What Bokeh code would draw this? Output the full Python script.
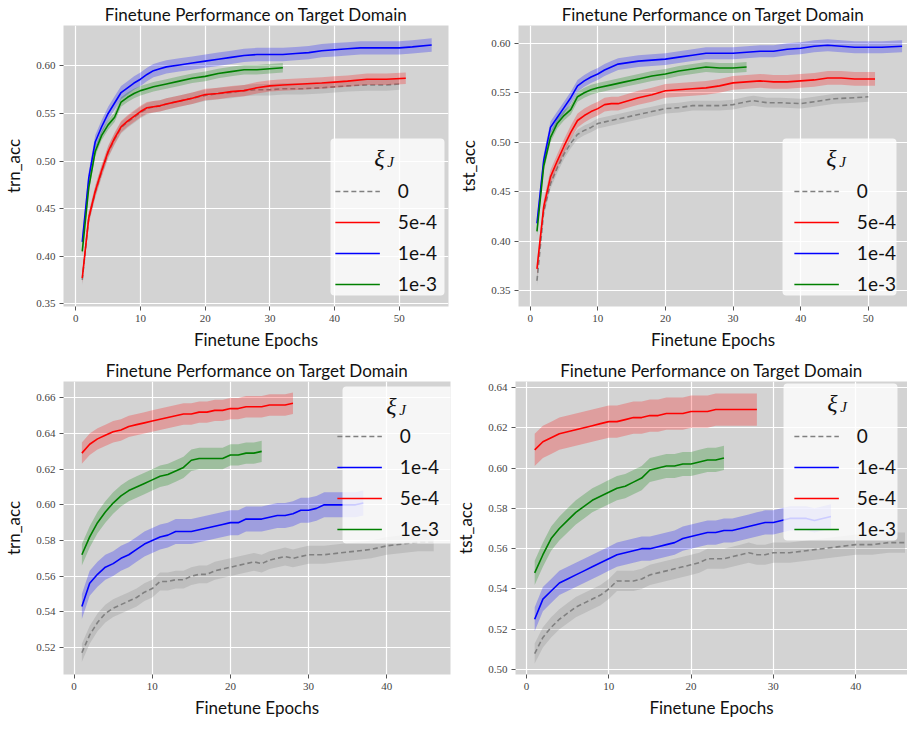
from bokeh.plotting import figure
from bokeh.models import Legend, LegendItem, Label, FixedTicker, Range1d, NumeralTickFormatter, BoxAnnotation
from bokeh.layouts import row, column
from bokeh.embed import file_html
from bokeh.resources import INLINE

TITLE = "Finetune Performance on Target Domain"
X_LABEL = "Finetune Epochs"

# ---------------- top-left: trn_acc ----------------
TL_EP_0 = [1,2,3,4,5,6,7,8,9,10,11,12,13,14,16,18,20,22,24,26,28,30,32,35,38,40,42,45,48,50]
TL_ACC_0 = [0.375,0.440,0.467,0.489,0.509,0.523,0.535,0.541,0.546,0.551,0.555,0.557,0.558,0.560,0.563,0.566,0.569,0.571,0.572,0.574,0.575,0.575,0.576,0.576,0.577,0.578,0.579,0.580,0.580,0.581]
TL_EP_5E4 = [1,2,3,4,5,6,7,8,9,10,11,12,13,14,16,18,20,22,24,26,28,30,32,35,38,40,42,45,48,51]
TL_ACC_5E4 = [0.377,0.440,0.468,0.490,0.510,0.524,0.536,0.542,0.547,0.552,0.556,0.557,0.558,0.560,0.563,0.566,0.570,0.571,0.573,0.574,0.577,0.579,0.580,0.581,0.582,0.583,0.584,0.586,0.586,0.587]
TL_EP_1E4 = [1,2,3,4,5,6,7,8,9,10,11,12,13,14,16,18,20,22,24,26,28,30,32,34,36,38,40,42,44,46,48,50,52,55]
TL_ACC_1E4 = [0.415,0.482,0.520,0.536,0.550,0.561,0.572,0.577,0.582,0.586,0.591,0.595,0.597,0.599,0.601,0.603,0.605,0.607,0.609,0.611,0.612,0.612,0.612,0.613,0.614,0.616,0.617,0.618,0.619,0.619,0.619,0.619,0.620,0.622]
TL_EP_1E3 = [1,2,3,4,5,6,7,8,9,10,11,12,14,16,18,20,22,24,26,28,30,32]
TL_ACC_1E3 = [0.405,0.472,0.510,0.527,0.538,0.546,0.562,0.567,0.571,0.574,0.576,0.578,0.581,0.584,0.587,0.589,0.592,0.594,0.596,0.596,0.597,0.598]
TL_STD = {"0": 0.006, "5e-4": 0.006, "1e-4": 0.007, "1e-3": 0.005}

# ---------------- top-right: tst_acc ----------------
TR_EP_0 = [1,2,3,4,5,6,7,8,9,10,12,14,16,18,20,22,24,26,28,30,32,33,35,37,40,42,45,48,50]
TR_ACC_0 = [0.360,0.430,0.458,0.474,0.488,0.499,0.508,0.512,0.515,0.519,0.522,0.525,0.528,0.531,0.534,0.535,0.537,0.537,0.537,0.538,0.541,0.542,0.540,0.540,0.539,0.541,0.544,0.545,0.546]
TR_EP_5E4 = [1,2,3,4,5,6,7,8,9,10,11,12,13,14,16,18,20,22,24,26,28,30,32,34,36,38,40,42,44,46,48,51]
TR_ACC_5E4 = [0.372,0.435,0.465,0.481,0.496,0.510,0.522,0.527,0.531,0.534,0.538,0.539,0.539,0.541,0.545,0.548,0.552,0.553,0.554,0.555,0.557,0.560,0.561,0.562,0.561,0.561,0.562,0.563,0.565,0.565,0.564,0.564]
TR_EP_1E4 = [1,2,3,4,5,6,7,8,9,10,11,12,13,14,16,18,20,22,24,26,28,30,32,34,36,38,40,42,44,46,48,50,52,55]
TR_ACC_1E4 = [0.418,0.482,0.515,0.525,0.535,0.545,0.557,0.562,0.566,0.569,0.573,0.576,0.579,0.580,0.582,0.583,0.584,0.586,0.588,0.590,0.590,0.590,0.591,0.592,0.592,0.594,0.595,0.597,0.598,0.597,0.596,0.596,0.596,0.597]
TR_EP_1E3 = [1,2,3,4,5,6,7,8,9,10,12,14,16,18,20,22,24,26,28,30,32]
TR_ACC_1E3 = [0.410,0.476,0.505,0.519,0.527,0.533,0.546,0.550,0.553,0.555,0.558,0.561,0.564,0.567,0.569,0.572,0.574,0.576,0.575,0.575,0.576]
TR_STD = {"0": 0.005, "5e-4": 0.007, "1e-4": 0.006, "1e-3": 0.005}

# ---------------- bottom-left: trn_acc ----------------
BL_EP_0 = [1,2,3,4,5,6,7,8,9,10,11,12,13,14,15,16,17,18,19,20,21,22,23,24,25,26,27,28,29,30,32,34,36,38,40,42,44,46]
BL_ACC_0 = [0.517,0.527,0.534,0.539,0.542,0.544,0.546,0.548,0.551,0.553,0.557,0.557,0.558,0.558,0.560,0.561,0.561,0.563,0.564,0.565,0.566,0.567,0.568,0.567,0.569,0.570,0.571,0.570,0.571,0.572,0.572,0.573,0.574,0.575,0.577,0.578,0.579,0.579]
BL_EP_1E4 = [1,2,3,4,5,6,7,8,9,10,11,12,13,14,15,16,17,18,19,20,21,22,23,24,25,26,27,28,29,30,31,32,33,34,35,36,37]
BL_ACC_1E4 = [0.543,0.556,0.561,0.565,0.567,0.570,0.572,0.575,0.578,0.580,0.582,0.583,0.585,0.585,0.585,0.586,0.587,0.588,0.589,0.590,0.590,0.592,0.592,0.592,0.593,0.594,0.594,0.595,0.597,0.597,0.598,0.600,0.600,0.600,0.600,0.600,0.601]
BL_EP_5E4 = [1,2,3,4,5,6,7,8,9,10,11,12,13,14,15,16,17,18,19,20,21,22,23,24,25,26,27,28]
BL_ACC_5E4 = [0.629,0.634,0.637,0.639,0.641,0.642,0.644,0.645,0.646,0.647,0.648,0.649,0.650,0.651,0.651,0.652,0.652,0.653,0.653,0.654,0.654,0.655,0.655,0.655,0.656,0.656,0.656,0.657]
BL_EP_1E3 = [1,2,3,4,5,6,7,8,9,10,11,12,13,14,15,16,17,18,19,20,21,22,23,24]
BL_ACC_1E3 = [0.572,0.582,0.590,0.596,0.601,0.605,0.608,0.610,0.612,0.614,0.616,0.617,0.619,0.621,0.625,0.626,0.626,0.626,0.626,0.628,0.628,0.629,0.629,0.630]
BL_STD = {"0": 0.005, "1e-4": 0.007, "5e-4": 0.006, "1e-3": 0.006}

# ---------------- bottom-right: tst_acc ----------------
BR_EP_0 = [1,2,3,4,5,6,7,8,9,10,11,12,13,14,15,16,17,18,19,20,21,22,23,24,25,26,27,28,29,30,32,34,36,38,40,42,44,46]
BR_ACC_0 = [0.508,0.516,0.521,0.525,0.528,0.531,0.533,0.535,0.537,0.540,0.544,0.544,0.544,0.545,0.547,0.548,0.549,0.550,0.551,0.552,0.553,0.555,0.555,0.555,0.556,0.557,0.558,0.557,0.557,0.558,0.558,0.559,0.560,0.561,0.562,0.562,0.563,0.563]
BR_EP_1E4 = [1,2,3,4,5,6,7,8,9,10,11,12,13,14,15,16,17,18,19,20,21,22,23,24,25,26,27,28,29,30,31,32,33,34,35,36,37]
BR_ACC_1E4 = [0.525,0.535,0.539,0.543,0.545,0.547,0.549,0.551,0.553,0.555,0.557,0.558,0.559,0.560,0.560,0.561,0.562,0.563,0.565,0.566,0.567,0.568,0.568,0.569,0.569,0.570,0.571,0.572,0.573,0.573,0.574,0.575,0.575,0.575,0.574,0.575,0.576]
BR_EP_5E4 = [1,2,3,4,5,6,7,8,9,10,11,12,13,14,15,16,17,18,19,20,21,22,23,24,25,26,27,28]
BR_ACC_5E4 = [0.609,0.613,0.615,0.617,0.618,0.619,0.620,0.621,0.622,0.623,0.623,0.624,0.625,0.625,0.626,0.626,0.627,0.627,0.627,0.628,0.628,0.628,0.629,0.629,0.629,0.629,0.629,0.629]
BR_EP_1E3 = [1,2,3,4,5,6,7,8,9,10,11,12,13,14,15,16,17,18,19,20,21,22,23,24]
BR_ACC_1E3 = [0.548,0.557,0.565,0.570,0.574,0.578,0.581,0.584,0.586,0.588,0.590,0.591,0.593,0.595,0.599,0.600,0.601,0.601,0.602,0.602,0.603,0.604,0.604,0.605]
BR_STD = {"0": 0.005, "1e-4": 0.006, "5e-4": 0.008, "1e-3": 0.006}

TOP_XTICKS = [0, 10, 20, 30, 40, 50]
BOT_XTICKS = [0, 10, 20, 30, 40]
TOP_YTICKS = [0.35, 0.40, 0.45, 0.50, 0.55, 0.60]
BL_YTICKS = [0.52, 0.54, 0.56, 0.58, 0.60, 0.62, 0.64, 0.66]
BR_YTICKS = [0.50, 0.52, 0.54, 0.56, 0.58, 0.60, 0.62, 0.64]

COLORS = {"0": "#808080", "5e-4": "#ff0000", "1e-4": "#0000ff", "1e-3": "#008000"}
SANS = "Lato"
SERIF = "Liberation Serif"

# legend geometry (px)
LEG_PAD = 8
LEG_GLYPH_W = 45
LEG_ROW_H = 22
LEG_SPACING = 8
LEG_TITLE_FS = 24
LEG_MARGIN = 11
LEG_STANDOFF = 18
BOX_W = 114
BOX_H = 157


def make_panel(series, stds, ylabel, xr, yr, xticks, yticks, w, h, bl, br, bt, bb, loc):
    p = figure(width=w, height=h, x_range=Range1d(*xr), y_range=Range1d(*yr),
               output_backend="svg", toolbar_location=None, title=TITLE,
               min_border_left=bl, min_border_right=br, min_border_top=bt, min_border_bottom=bb)
    p.background_fill_color = "#d3d3d3"
    p.border_fill_color = "white"
    p.outline_line_color = None
    p.title.text_font = SANS
    p.title.text_font_size = "17px"
    p.title.text_font_style = "normal"
    p.title.text_color = "#111111"
    p.title.align = "center"
    p.title.standoff = 2
    p.grid.grid_line_color = "white"
    p.grid.grid_line_width = 1.2
    p.xaxis.ticker = FixedTicker(ticks=xticks)
    p.yaxis.ticker = FixedTicker(ticks=yticks)
    p.yaxis.formatter = NumeralTickFormatter(format="0.00")
    p.xaxis.axis_label = X_LABEL
    p.yaxis.axis_label = ylabel
    for ax in (p.xaxis, p.yaxis):
        ax.axis_line_color = None
        ax.major_tick_line_color = "#555555"
        ax.major_tick_in = 0
        ax.major_tick_out = 4
        ax.minor_tick_line_color = None
        ax.major_label_text_font = SERIF
        ax.major_label_text_font_size = "11px"
        ax.major_label_text_color = "#444444"
        ax.major_label_standoff = 4
        ax.axis_label_text_font = SANS
        ax.axis_label_text_font_size = "17px"
        ax.axis_label_text_font_style = "normal"
        ax.axis_label_text_color = "#111111"
    p.xaxis.axis_label_standoff = 4
    p.yaxis.axis_label_standoff = 9

    items = []
    for label, ep, acc, dash in series:
        s = stds[label]
        lo = [a - s for a in acc]
        hi = [a + s for a in acc]
        c = COLORS[label]
        p.varea(x=ep, y1=lo, y2=hi, fill_color=c, fill_alpha=0.25)
        r = p.line(ep, acc, line_color=c, line_width=1.6, line_dash=dash)
        items.append(LegendItem(label=label, renderers=[r]))

    # legend background box (frame-relative screen units), drawn under the title labels
    fw = w - bl - br
    fh = h - bt - bb
    right = fw - LEG_MARGIN
    left = right - BOX_W
    if loc == "bottom_right":
        bottom = LEG_MARGIN
        top = bottom + BOX_H
    else:
        top = fh - LEG_MARGIN
        bottom = top - BOX_H
    p.add_layout(BoxAnnotation(left=left, right=right, top=top, bottom=bottom,
                               left_units="screen", right_units="screen",
                               top_units="screen", bottom_units="screen",
                               fill_color="white", fill_alpha=0.8, line_color=None,
                               border_radius=4, level="annotation"))
    cx = (left + right) / 2
    ty = top - 19
    p.add_layout(Label(x=cx - 8, y=ty, x_units="screen", y_units="screen", text="ξ",
                       text_font=SERIF, text_font_style="italic", text_font_size="24px",
                       text_align="center", text_baseline="middle", text_color="#111111",
                       level="annotation"))
    p.add_layout(Label(x=cx + 3, y=ty - 4, x_units="screen", y_units="screen", text="J",
                       text_font=SERIF, text_font_style="italic", text_font_size="15px",
                       text_align="center", text_baseline="middle", text_color="#111111",
                       level="annotation"))

    leg = Legend(items=items, location=loc, margin=LEG_MARGIN, padding=LEG_PAD,
                 spacing=LEG_SPACING, glyph_width=LEG_GLYPH_W, glyph_height=LEG_ROW_H,
                 label_height=LEG_ROW_H, label_standoff=LEG_STANDOFF,
                 label_text_font=SANS, label_text_font_size="19px", label_text_color="#111111",
                 title="\u00a0", title_text_font_size="%dpx" % LEG_TITLE_FS, title_standoff=4,
                 background_fill_alpha=0.0, border_line_color=None)
    p.add_layout(leg)
    return p


top_series_l = [("0", TL_EP_0, TL_ACC_0, "5 3"), ("5e-4", TL_EP_5E4, TL_ACC_5E4, "solid"),
                ("1e-4", TL_EP_1E4, TL_ACC_1E4, "solid"), ("1e-3", TL_EP_1E3, TL_ACC_1E3, "solid")]
top_series_r = [("0", TR_EP_0, TR_ACC_0, "5 3"), ("5e-4", TR_EP_5E4, TR_ACC_5E4, "solid"),
                ("1e-4", TR_EP_1E4, TR_ACC_1E4, "solid"), ("1e-3", TR_EP_1E3, TR_ACC_1E3, "solid")]
bot_series_l = [("0", BL_EP_0, BL_ACC_0, "5 3"), ("1e-4", BL_EP_1E4, BL_ACC_1E4, "solid"),
                ("5e-4", BL_EP_5E4, BL_ACC_5E4, "solid"), ("1e-3", BL_EP_1E3, BL_ACC_1E3, "solid")]
bot_series_r = [("0", BR_EP_0, BR_ACC_0, "5 3"), ("1e-4", BR_EP_1E4, BR_ACC_1E4, "solid"),
                ("5e-4", BR_EP_5E4, BR_ACC_5E4, "solid"), ("1e-3", BR_EP_1E3, BR_ACC_1E3, "solid")]

p1 = make_panel(top_series_l, TL_STD, "trn_acc", (-1.9, 57.6), (0.347, 0.6425), TOP_XTICKS, TOP_YTICKS,
                452, 352, 56, 4, 22, 46, "bottom_right")
p2 = make_panel(top_series_r, TR_STD, "tst_acc", (-1.73, 55.8), (0.334, 0.618), TOP_XTICKS, TOP_YTICKS,
                455, 352, 66, 0, 22, 40, "bottom_right")
p3 = make_panel(bot_series_l, BL_STD, "trn_acc", (-1.35, 48.15), (0.5048, 0.6692), BOT_XTICKS, BL_YTICKS,
                452, 368, 46, 2, 29, 40, "top_right")
p4 = make_panel(bot_series_r, BR_STD, "tst_acc", (-1.33, 46.3), (0.4976, 0.6429), BOT_XTICKS, BR_YTICKS,
                455, 368, 62, 0, 28, 38, "top_right")

layout = column(row(p1, p2), row(p3, p4))
open("out.html", "w").write(file_html(layout, INLINE))
